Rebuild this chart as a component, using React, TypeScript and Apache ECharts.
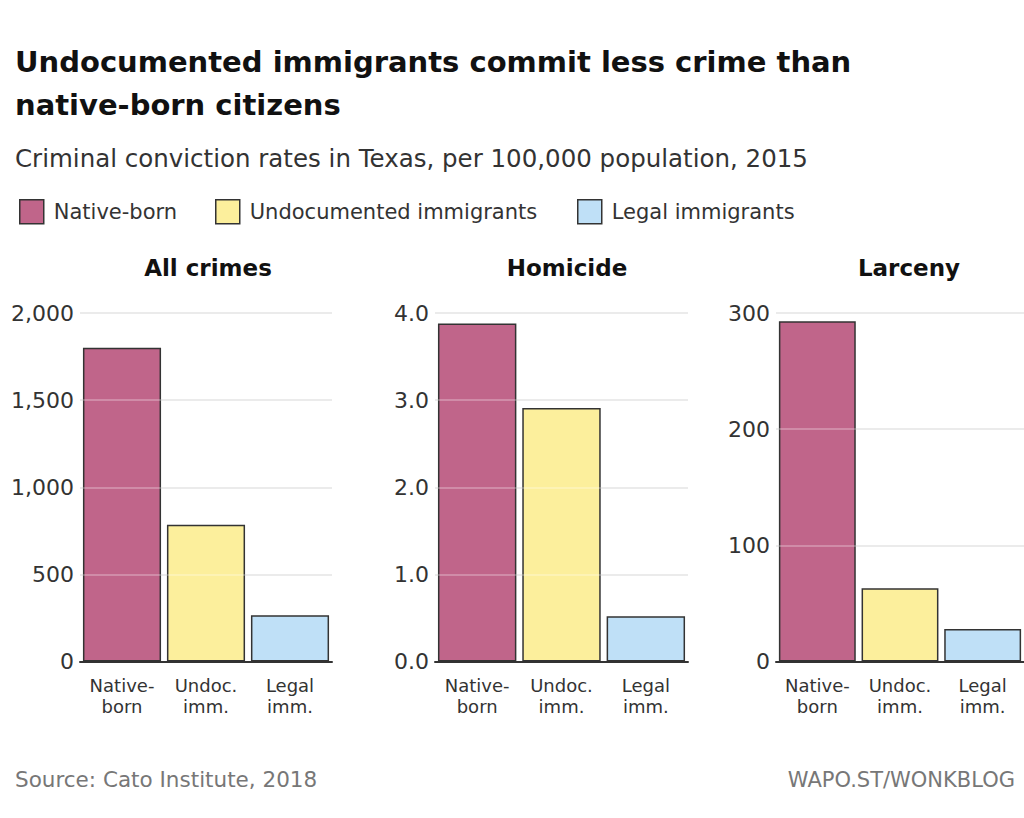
import React, { useEffect, useRef } from "react";
import * as echarts from "echarts";

const categories = ["Native-\nborn", "Undoc.\nimm.", "Legal\nimm."];
const seriesNames = ["Native-born", "Undocumented immigrants", "Legal immigrants"];
const seriesColors = ["#c0658a", "#fcef9c", "#bfe0f7"];
const panelTitles = ["All crimes", "Homicide", "Larceny"];

const allCrimesValues = [1800, 785, 265];
const homicideValues = [3.88, 2.91, 0.52];
const larcenyValues = [293, 63, 28];

const allCrimesTicks = [0, 500, 1000, 1500, 2000];
const homicideTicks = [0, 1, 2, 3, 4];
const larcenyTicks = [0, 100, 200, 300];

const panels = [
  { values: allCrimesValues, ticks: allCrimesTicks, fmt: (v: number) => v.toLocaleString("en-US") },
  { values: homicideValues, ticks: homicideTicks, fmt: (v: number) => v.toFixed(1) },
  { values: larcenyValues, ticks: larcenyTicks, fmt: (v: number) => String(v) },
];

const gridLefts = [80, 435, 776];
const gridWidths = [252, 253, 260];
const titleCenters = [203, 562, 904];
const GRID_TOP = 313;
const GRID_H = 348.5;
const FONT = "'DejaVu Sans', sans-serif";

export default function App() {
  const ref = useRef<HTMLDivElement>(null);

  useEffect(() => {
    if (!ref.current) return;
    const chart = echarts.init(ref.current, undefined, { renderer: "svg" });

    const grids = gridLefts.map((left, p) => ({
      left,
      top: GRID_TOP,
      width: gridWidths[p],
      height: GRID_H,
      containLabel: false,
    }));

    const xAxes = panels.map((_, p) => ({
      type: "category",
      gridIndex: p,
      data: categories,
      axisLine: { show: true, lineStyle: { color: "#333", width: 2 } },
      axisTick: { show: false },
      axisLabel: {
        color: "#333",
        fontSize: 18,
        lineHeight: 21,
        fontFamily: FONT,
        margin: 13,
        interval: 0,
      },
    }));

    const yAxes = panels.map((panel, p) => {
      const t = panel.ticks;
      return {
        type: "value",
        gridIndex: p,
        min: t[0],
        max: t[t.length - 1],
        interval: t[1] - t[0],
        axisLine: { show: false },
        axisTick: { show: false },
        splitLine: { show: true, lineStyle: { color: "#dcdcdc", width: 1.5 } },
        axisLabel: {
          color: "#333",
          fontSize: 22,
          fontFamily: FONT,
          margin: 6,
          padding: [0, 0, 8, 0],
          formatter: (v: number) => panel.fmt(v),
        },
      };
    });

    const series: any[] = [];
    panels.forEach((panel, p) => {
      seriesNames.forEach((name, s) => {
        const isLast = s === seriesNames.length - 1;
        series.push({
          type: "bar",
          name,
          xAxisIndex: p,
          yAxisIndex: p,
          barWidth: "93%",
          barGap: "-100%",
          data: categories.map((_, i) => (i === s ? panel.values[s] : "-")),
          itemStyle: { color: seriesColors[s], borderColor: "#333", borderWidth: 1.5 },
          markLine: isLast
            ? {
                silent: true,
                symbol: ["none", "none"],
                label: { show: false },
                lineStyle: { color: "rgba(255,255,255,0.35)", type: "solid", width: 1.5 },
                data: panel.ticks.slice(1).map((v) => ({ yAxis: v })),
              }
            : undefined,
        });
      });
    });

    const legendLefts = [14, 210, 572];
    const legends = seriesNames.map((name, s) => ({
      data: [name],
      left: legendLefts[s],
      top: 194,
      icon: "rect",
      itemWidth: 24,
      itemHeight: 24,
      itemStyle: { borderColor: "#333", borderWidth: 1.5 },
      textStyle: { color: "#333", fontSize: 21, fontFamily: FONT, padding: [0, 0, 0, 5] },
      selectedMode: false,
    }));

    const titles: any[] = [
      {
        text: "Undocumented immigrants commit less crime than\nnative-born citizens",
        left: 10,
        top: 35,
        textStyle: { fontSize: 29, fontWeight: "bold", color: "#111", lineHeight: 43, fontFamily: FONT },
      },
      {
        text: "Criminal conviction rates in Texas, per 100,000 population, 2015",
        left: 10,
        top: 141,
        textStyle: { fontSize: 24.5, fontWeight: "normal", color: "#333", fontFamily: FONT },
      },
      ...panelTitles.map((t, p) => ({
        text: t,
        left: titleCenters[p],
        top: 251,
        textAlign: "center",
        textStyle: { fontSize: 23, fontWeight: "bold", color: "#111", fontFamily: FONT },
      })),
      {
        text: "Source: Cato Institute, 2018",
        left: 10,
        top: 763,
        textStyle: { fontSize: 21.5, fontWeight: "normal", color: "#777", fontFamily: FONT },
      },
      {
        text: "WAPO.ST/WONKBLOG",
        right: 4,
        top: 764,
        textStyle: { fontSize: 21, fontWeight: "normal", color: "#777", fontFamily: FONT },
      },
    ];

    chart.setOption({
      animation: false,
      backgroundColor: "#ffffff",
      title: titles,
      legend: legends,
      grid: grids,
      xAxis: xAxes,
      yAxis: yAxes,
      series,
    });

    return () => chart.dispose();
  }, []);

  return (
    <div
      ref={ref}
      style={{ position: "absolute", left: 0, top: 0, width: 1024, height: 818, background: "#fff" }}
    />
  );
}
